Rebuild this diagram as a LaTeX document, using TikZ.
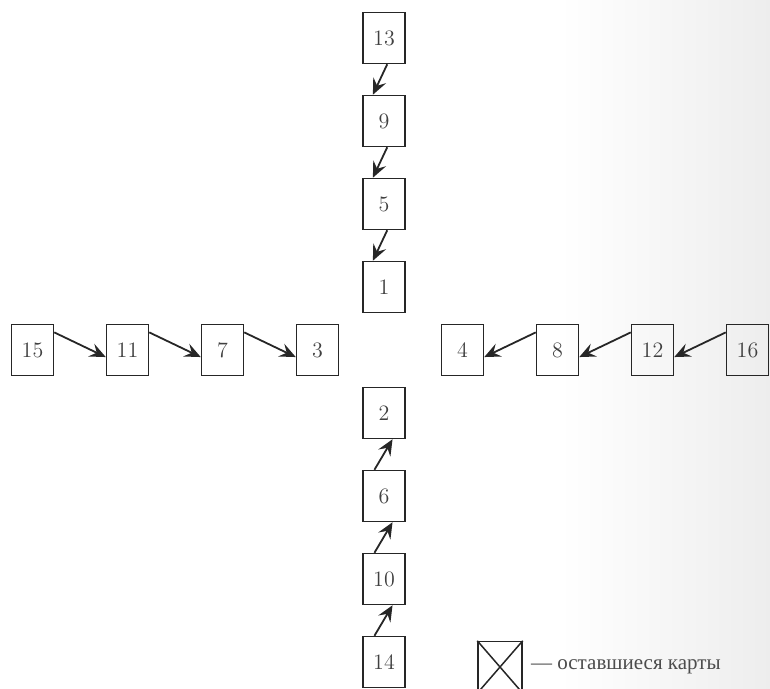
\documentclass[tikz,border=0pt]{standalone}
\usepackage{fontspec}
\usepackage{xcolor}
\usepackage{tikz}
\usetikzlibrary{arrows.meta, positioning}
\newfontfamily\cyrfont{Liberation Serif}

\begin{document}
\begin{tikzpicture}[
        x=0.5pt, y=-0.5pt,
        node distance=15.25pt and 25.75pt,
        card/.style={rectangle, draw=black!85, line width=0.75pt, minimum width=21pt, minimum height=25.5pt, inner sep=0pt, text=black!75, font=\fontsize{11}{13}\selectfont, text centered},
        arrow/.style={line width=0.9pt, draw=black!85, -{Stealth[length=8pt, width=7pt, inset=3pt]}}
    ]
    \useasboundingbox (0,0) rectangle (770,689);
    \fill[left color=white, right color=black!7] (560,0) rectangle (770,689);

    % upper column
    \node (c1) [card] at (384,287) {1};
    \node (c5) [card, above=of c1] {5};
    \node (c9) [card, above=of c5] {9};
    \node (c13) [card, above=of c9] {13};

    % lower column
    \node (c2) [card] at (384,413) {2};
    \node (c6) [card, below=of c2] {6};
    \node (c10) [card, below=of c6] {10};
    \node (c14) [card, below=of c10] {14};

    % left row
    \node (c3) [card] at (317.5,350) {3};
    \node (c7) [card, left=of c3] {7};
    \node (c11) [card, left=of c7] {11};
    \node (c15) [card, left=of c11] {15};

    % right row
    \node (c4) [card] at (462.5,350) {4};
    \node (c8) [card, right=of c4] {8};
    \node (c12) [card, right=of c8] {12};
    \node (c16) [card, right=of c12] {16};

    % legend
    \node (key) [card, minimum width=22pt] at (500,667) {};
    \draw [black!85, line width=0.75pt] (key.north west) -- (key.south east);
    \draw [black!85, line width=0.75pt] (key.north east) -- (key.south west);
    \node (keytext) [right=4pt of key, inner sep=0pt, text=black!70, font=\cyrfont\fontsize{10.5}{12}\selectfont] {— оставшиеся карты};

    \draw [arrow] (c13.-83) -- (c9.113);
    \draw [arrow] (c9.-83) -- (c5.113);
    \draw [arrow] (c5.-83) -- (c1.113);

    \draw [arrow] (c14.110) -- (c10.-72);
    \draw [arrow] (c10.110) -- (c6.-72);
    \draw [arrow] (c6.110) -- (c2.-72);

    \draw [arrow] (c15.39) -- (c11.198);
    \draw [arrow] (c11.39) -- (c7.198);
    \draw [arrow] (c7.39) -- (c3.198);

    \draw [arrow] (c16.141) -- (c12.-18);
    \draw [arrow] (c12.141) -- (c8.-18);
    \draw [arrow] (c8.141) -- (c4.-18);

    \end{tikzpicture}
\end{document}
